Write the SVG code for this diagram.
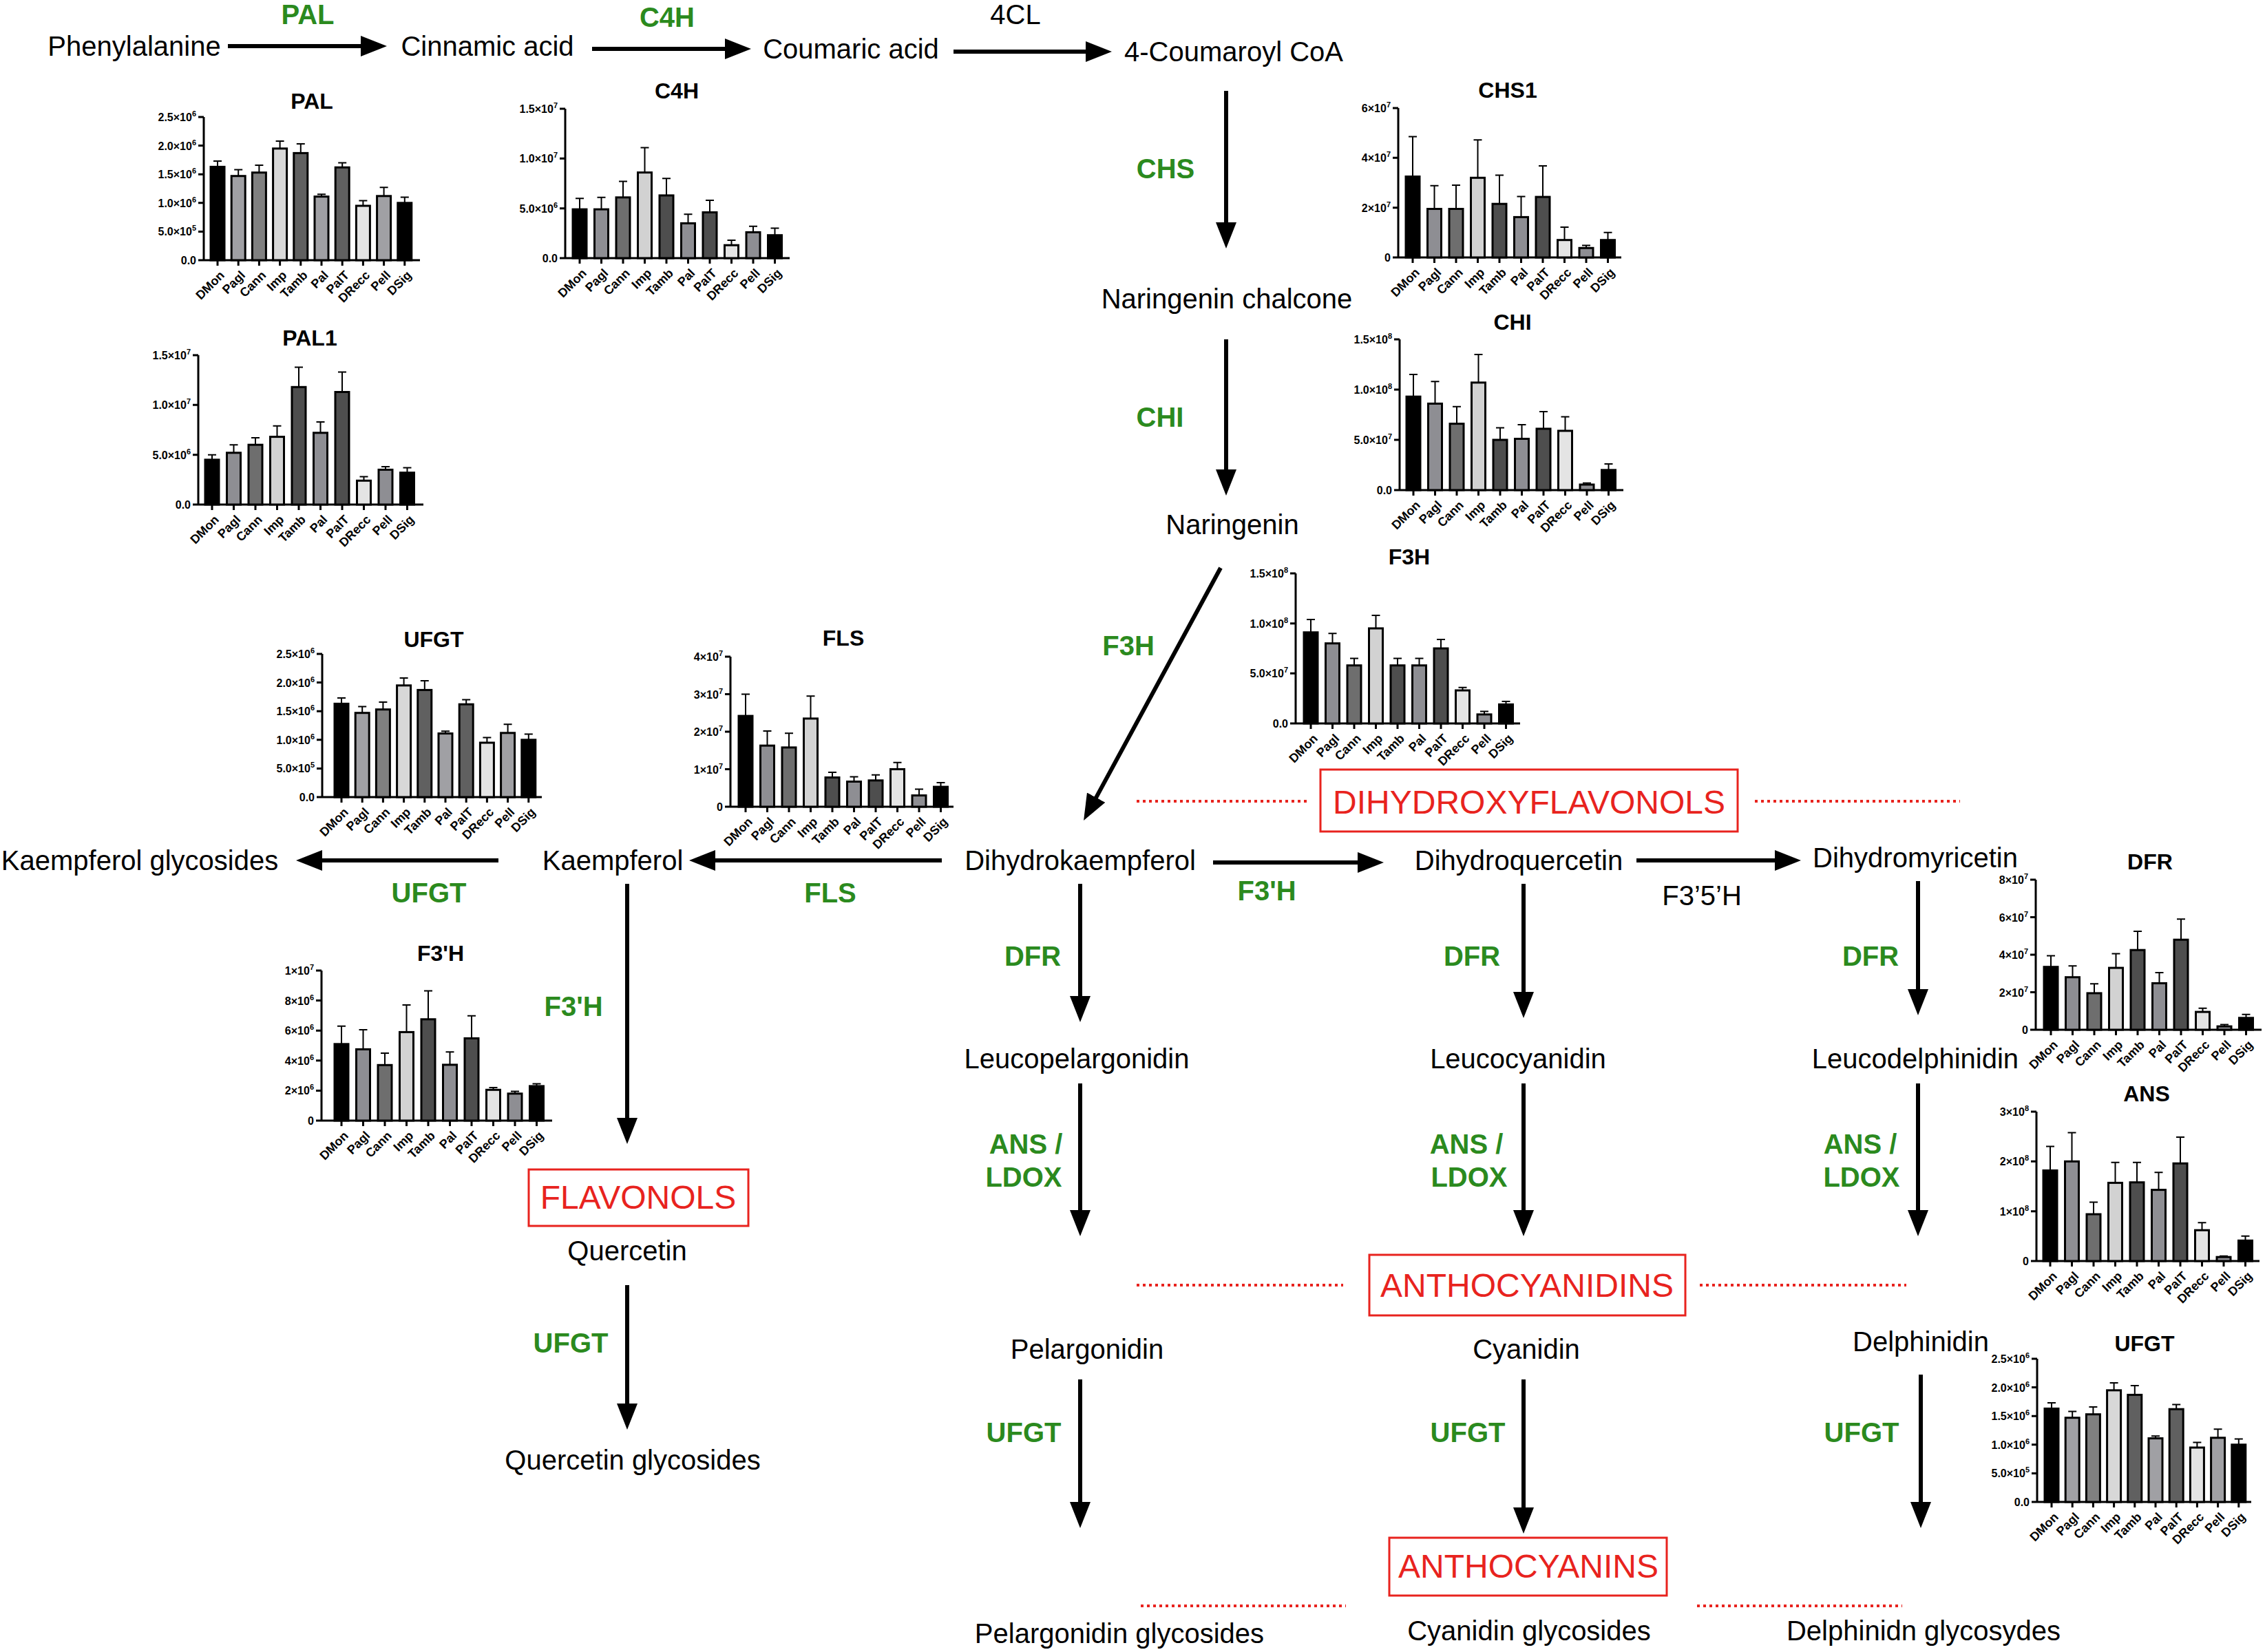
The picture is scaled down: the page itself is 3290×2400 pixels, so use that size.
<svg xmlns="http://www.w3.org/2000/svg" xmlns:xlink="http://www.w3.org/1999/xlink" width="3290" height="2400" viewBox="0 0 3290 2400">
<style>
.t{font-family:"Liberation Sans",Arial,sans-serif;font-size:40px;text-anchor:middle;fill:#000}
.e{font-family:"Liberation Sans",Arial,sans-serif;font-size:40px;font-weight:bold;text-anchor:middle;fill:#2b8a1e}
.r{font-family:"Liberation Sans",Arial,sans-serif;font-size:48px;text-anchor:middle;fill:#e8231e}
.ct{font-family:"Liberation Sans",Arial,sans-serif;font-size:32px;font-weight:bold;text-anchor:middle;fill:#000}
.yl{font-family:"Liberation Sans",Arial,sans-serif;font-size:16px;font-weight:bold;text-anchor:end;fill:#000}
.xl{font-family:"Liberation Sans",Arial,sans-serif;font-size:18px;font-weight:bold;text-anchor:end;fill:#000}
.sup{font-size:11px}
.ax{stroke:#000;stroke-width:3;fill:none}
.eb{stroke:#000;stroke-width:2;fill:none}
rect.k,rect.g1,rect.g2,rect.g3,rect.g4,rect.g5{stroke:#000;stroke-width:3}
.k{fill:#000}.g1{fill:#8e8e93}.g2{fill:#6e6e6e}.g3{fill:#d2d2d2}.g4{fill:#4e4e4e}.g5{fill:#e4e4e4}
.ar{stroke:#000;stroke-width:6;fill:none;marker-end:url(#ah)}
.dl{stroke:#e8231e;stroke-width:4;stroke-dasharray:4 5;fill:none}
.rb{fill:#fff;stroke:#e8231e;stroke-width:3}
</style>
<defs>
<marker id="ah" markerUnits="userSpaceOnUse" viewBox="0 0 40 32" markerWidth="40" markerHeight="32" refX="10" refY="16" orient="auto"><path d="M0,1 L38,16 L0,31 z" fill="#000"/></marker>
<g id="xlA">
<path class="ax" d="M0,0v8M31.5,0v8M63,0v8M94.5,0v8M126,0v8M157.5,0v8M189,0v8M220.5,0v8M252,0v8M283.5,0v8"/>
<text class="xl" transform="translate(11,23) rotate(-45)">DMon</text>
<text class="xl" transform="translate(42.5,23) rotate(-45)">Pagl</text>
<text class="xl" transform="translate(74,23) rotate(-45)">Cann</text>
<text class="xl" transform="translate(105.5,23) rotate(-45)">Imp</text>
<text class="xl" transform="translate(137,23) rotate(-45)">Tamb</text>
<text class="xl" transform="translate(168.5,23) rotate(-45)">Pal</text>
<text class="xl" transform="translate(200,23) rotate(-45)">PalT</text>
<text class="xl" transform="translate(231.5,23) rotate(-45)">DRecc</text>
<text class="xl" transform="translate(263,23) rotate(-45)">Pell</text>
<text class="xl" transform="translate(294.5,23) rotate(-45)">DSig</text>
</g>
<g id="xlB">
<path class="ax" d="M0,0v8M30.2,0v8M60.4,0v8M90.6,0v8M120.8,0v8M151,0v8M181.2,0v8M211.4,0v8M241.6,0v8M271.8,0v8"/>
<text class="xl" transform="translate(11,23) rotate(-45)">DMon</text>
<text class="xl" transform="translate(41.2,23) rotate(-45)">Pagl</text>
<text class="xl" transform="translate(71.4,23) rotate(-45)">Cann</text>
<text class="xl" transform="translate(101.6,23) rotate(-45)">Imp</text>
<text class="xl" transform="translate(131.8,23) rotate(-45)">Tamb</text>
<text class="xl" transform="translate(162,23) rotate(-45)">Pal</text>
<text class="xl" transform="translate(192.2,23) rotate(-45)">PalT</text>
<text class="xl" transform="translate(222.4,23) rotate(-45)">DRecc</text>
<text class="xl" transform="translate(252.6,23) rotate(-45)">Pell</text>
<text class="xl" transform="translate(282.8,23) rotate(-45)">DSig</text>
</g>
<g id="yB">
<path class="ax" d="M0,-208V0M-8,-208H0M-8,-166.4H0M-8,-124.8H0M-8,-83.2H0M-8,-41.6H0"/>
<text class="yl" x="-11" y="-202">2.5×10<tspan class="sup" dy="-7">6</tspan></text>
<text class="yl" x="-11" y="-160.4">2.0×10<tspan class="sup" dy="-7">6</tspan></text>
<text class="yl" x="-11" y="-118.8">1.5×10<tspan class="sup" dy="-7">6</tspan></text>
<text class="yl" x="-11" y="-77.2">1.0×10<tspan class="sup" dy="-7">6</tspan></text>
<text class="yl" x="-11" y="-35.6">5.0×10<tspan class="sup" dy="-7">5</tspan></text>
<text class="yl" x="-11" y="6">0.0</text>
</g>
<g id="barsB">
<rect class="k" x="-10" y="-135.6" width="20" height="135.6"/>
<rect class="g1" x="20.2" y="-122.3" width="20" height="122.3" style="fill:#a0a0a4"/>
<rect class="g2" x="50.4" y="-127.3" width="20" height="127.3" style="fill:#808080"/>
<rect class="g3" x="80.6" y="-162.2" width="20" height="162.2" style="fill:#d8d8d8"/>
<rect class="g4" x="110.8" y="-155.6" width="20" height="155.6" style="fill:#606060"/>
<rect class="g1" x="141" y="-92.4" width="20" height="92.4" style="fill:#a0a0a4"/>
<rect class="g4" x="171.2" y="-134.8" width="20" height="134.8" style="fill:#606060"/>
<rect class="g5" x="201.4" y="-79" width="20" height="79"/>
<rect class="g1" x="231.6" y="-93.2" width="20" height="93.2" style="fill:#a0a0a4"/>
<rect class="k" x="261.8" y="-83.2" width="20" height="83.2"/>
<path class="eb" d="M0,-135.6V-143.9M-6,-143.9H6M30.2,-122.3V-131.5M24.2,-131.5H36.2M60.4,-127.3V-138.1M54.4,-138.1H66.4M90.6,-162.2V-173.1M84.6,-173.1H96.6M120.8,-155.6V-168.9M114.8,-168.9H126.8M151,-92.4V-95.7M145,-95.7H157M181.2,-134.8V-141.4M175.2,-141.4H187.2M211.4,-79V-86.5M205.4,-86.5H217.4M241.6,-93.2V-105.7M235.6,-105.7H247.6M271.8,-83.2V-91.5M265.8,-91.5H277.8"/>
<use xlink:href="#xlB" href="#xlB"/>
</g>
</defs>

<rect x="0" y="0" width="3290" height="2400" fill="#fff"/>

<g id="connectors">
<path class="ar" d="M331,67H534"/>
<path class="ar" d="M860,71H1063"/>
<path class="ar" d="M1385,75H1587"/>
<path class="ar" d="M1781,132V333"/>
<path class="ar" d="M1781,493V692"/>
<path class="ar" d="M1773,825L1587.4,1167.4"/>
<path class="ar" d="M1368,1250H1029"/>
<path class="ar" d="M724,1250H458"/>
<path class="ar" d="M911,1284V1634"/>
<path class="ar" d="M911,1867V2049"/>
<path class="ar" d="M1762,1253H1982"/>
<path class="ar" d="M2377,1250H2588"/>
<path class="ar" d="M1569,1284V1457"/>
<path class="ar" d="M1569,1574V1768"/>
<path class="ar" d="M1569,2004V2192"/>
<path class="ar" d="M2213,1284V1451"/>
<path class="ar" d="M2213,1574V1768"/>
<path class="ar" d="M2213,2004V2200"/>
<path class="ar" d="M2786,1280V1447"/>
<path class="ar" d="M2786,1574V1768"/>
<path class="ar" d="M2790,1997V2192"/>
<path class="dl" d="M1651,1164H1899M2549,1164H2847"/>
<path class="dl" d="M1651,1867H1951M2469,1867H2769"/>
<path class="dl" d="M1657,2333H1955M2465,2333H2763"/>
</g>

<g id="enzyme-labels">
<text class="e" x="447" y="35">PAL</text>
<text class="e" x="969" y="39">C4H</text>
<text class="t" x="1475" y="35">4CL</text>
<text class="e" x="1693" y="259">CHS</text>
<text class="e" x="1685" y="620">CHI</text>
<text class="e" x="1639" y="952">F3H</text>
<text class="e" x="1206" y="1311">FLS</text>
<text class="e" x="623" y="1311">UFGT</text>
<text class="e" x="833" y="1476">F3'H</text>
<text class="e" x="829" y="1965">UFGT</text>
<text class="e" x="1840" y="1308">F3'H</text>
<text class="t" x="2472" y="1315">F3’5’H</text>
<text class="e" x="1500" y="1403">DFR</text>
<text class="e" x="2138" y="1403">DFR</text>
<text class="e" x="2717" y="1403">DFR</text>
<text class="e" x="1490" y="1676">ANS /</text>
<text class="e" x="1487" y="1724">LDOX</text>
<text class="e" x="2130" y="1676">ANS /</text>
<text class="e" x="2134" y="1724">LDOX</text>
<text class="e" x="2702" y="1676">ANS /</text>
<text class="e" x="2704" y="1724">LDOX</text>
<text class="e" x="1487" y="2095">UFGT</text>
<text class="e" x="2132" y="2095">UFGT</text>
<text class="e" x="2704" y="2095">UFGT</text>
</g>

<g id="n-phenylalanine"><text class="t" x="195" y="81">Phenylalanine</text></g>
<g id="n-cinnamic"><text class="t" x="708" y="81">Cinnamic acid</text></g>
<g id="n-coumaric"><text class="t" x="1236" y="85">Coumaric acid</text></g>
<g id="n-coumaroylcoa"><text class="t" x="1792" y="89">4-Coumaroyl CoA</text></g>
<g id="n-chalcone"><text class="t" x="1782" y="448">Naringenin chalcone</text></g>
<g id="n-naringenin"><text class="t" x="1790" y="776">Naringenin</text></g>
<g id="n-dihydrokaempferol"><text class="t" x="1569" y="1264">Dihydrokaempferol</text></g>
<g id="n-kaempferol"><text class="t" x="890" y="1264">Kaempferol</text></g>
<g id="n-kaempferol-gly"><text class="t" x="203" y="1264">Kaempferol glycosides</text></g>
<g id="n-quercetin"><text class="t" x="911" y="1831">Quercetin</text></g>
<g id="n-quercetin-gly"><text class="t" x="919" y="2135">Quercetin glycosides</text></g>
<g id="n-dihydroquercetin"><text class="t" x="2206" y="1264">Dihydroquercetin</text></g>
<g id="n-dihydromyricetin"><text class="t" x="2782" y="1260">Dihydromyricetin</text></g>
<g id="n-leucopelargonidin"><text class="t" x="1564" y="1552">Leucopelargonidin</text></g>
<g id="n-leucocyanidin"><text class="t" x="2205" y="1552">Leucocyanidin</text></g>
<g id="n-leucodelphinidin"><text class="t" x="2782" y="1552">Leucodelphinidin</text></g>
<g id="n-pelargonidin"><text class="t" x="1579" y="1974">Pelargonidin</text></g>
<g id="n-cyanidin"><text class="t" x="2217" y="1974">Cyanidin</text></g>
<g id="n-delphinidin"><text class="t" x="2790" y="1963">Delphinidin</text></g>
<g id="n-pelargonidin-gly"><text class="t" x="1626" y="2387">Pelargonidin glycosides</text></g>
<g id="n-cyanidin-gly"><text class="t" x="2221" y="2383">Cyanidin glycosides</text></g>
<g id="n-delphinidin-gly"><text class="t" x="2794" y="2383">Delphinidn glycosydes</text></g>

<g id="box-dihydroxyflavonols"><rect class="rb" x="1918" y="1118" width="606" height="90"/><text class="r" x="2221" y="1182">DIHYDROXYFLAVONOLS</text></g>
<g id="box-flavonols"><rect class="rb" x="768" y="1699" width="319" height="82"/><text class="r" x="927" y="1756">FLAVONOLS</text></g>
<g id="box-anthocyanidins"><rect class="rb" x="1989" y="1823" width="459" height="88"/><text class="r" x="2218" y="1884">ANTHOCYANIDINS</text></g>
<g id="box-anthocyanins"><rect class="rb" x="2018" y="2234" width="403" height="84"/><text class="r" x="2220" y="2292">ANTHOCYANINS</text></g>

<!-- PAL chart -->
<g id="chart-pal" transform="translate(296,378)">
<use xlink:href="#yB" href="#yB"/>
<path class="ax" d="M-8,0H314"/>
<use xlink:href="#barsB" href="#barsB" x="20"/>
<text class="ct" x="157" y="-220">PAL</text>
</g>

<!-- UFGT left -->
<g id="chart-ufgt-left" transform="translate(468,1158)">
<use xlink:href="#yB" href="#yB"/>
<path class="ax" d="M-8,0H319"/>
<use xlink:href="#barsB" href="#barsB" x="28"/>
<text class="ct" x="162" y="-218">UFGT</text>
</g>

<!-- UFGT right -->
<g id="chart-ufgt-right" transform="translate(2959,2182)">
<use xlink:href="#yB" href="#yB"/>
<path class="ax" d="M-8,0H311"/>
<use xlink:href="#barsB" href="#barsB" x="21"/>
<text class="ct" x="156" y="-219">UFGT</text>
</g>

<!-- C4H -->
<g id="chart-c4h" transform="translate(821,375)">
<path class="ax" d="M0,-217V0M-8,0H326M-8,-217H0M-8,-144.7H0M-8,-72.3H0"/>
<text class="yl" x="-11" y="-211">1.5×10<tspan class="sup" dy="-7">7</tspan></text>
<text class="yl" x="-11" y="-138.7">1.0×10<tspan class="sup" dy="-7">7</tspan></text>
<text class="yl" x="-11" y="-66.3">5.0×10<tspan class="sup" dy="-7">6</tspan></text>
<text class="yl" x="-11" y="6">0.0</text>
<text class="ct" x="162" y="-232">C4H</text>
<g transform="translate(21,0)">
<rect class="k" x="-10" y="-70.9" width="20" height="70.9"/>
<rect class="g1" x="21.5" y="-70.9" width="20" height="70.9"/>
<rect class="g2" x="53" y="-88.2" width="20" height="88.2"/>
<rect class="g3" x="84.5" y="-124.4" width="20" height="124.4"/>
<rect class="g4" x="116" y="-91.1" width="20" height="91.1"/>
<rect class="g1" x="147.5" y="-50.6" width="20" height="50.6"/>
<rect class="g4" x="179" y="-66.5" width="20" height="66.5"/>
<rect class="g5" x="210.5" y="-18.8" width="20" height="18.8"/>
<rect class="g1" x="242" y="-37.6" width="20" height="37.6"/>
<rect class="k" x="273.5" y="-33.3" width="20" height="33.3"/>
<path class="eb" d="M0,-70.9V-86.8M-6,-86.8H6M31.5,-70.9V-88.2M25.5,-88.2H37.5M63,-88.2V-111.4M57,-111.4H69M94.5,-124.4V-160.6M88.5,-160.6H100.5M126,-91.1V-115.7M120,-115.7H132M157.5,-50.6V-63.7M151.5,-63.7H163.5M189,-66.5V-83.9M183,-83.9H195M220.5,-18.8V-26M214.5,-26H226.5M252,-37.6V-46.3M246,-46.3H258M283.5,-33.3V-43.4M277.5,-43.4H289.5"/>
<use xlink:href="#xlA" href="#xlA"/>
</g>
</g>

<!-- CHS1 -->
<g id="chart-chs1" transform="translate(2031,374)">
<path class="ax" d="M0,-217V0M-8,0H324M-8,-217H0M-8,-144.7H0M-8,-72.3H0"/>
<text class="yl" x="-11" y="-211">6×10<tspan class="sup" dy="-7">7</tspan></text>
<text class="yl" x="-11" y="-138.7">4×10<tspan class="sup" dy="-7">7</tspan></text>
<text class="yl" x="-11" y="-66.3">2×10<tspan class="sup" dy="-7">7</tspan></text>
<text class="yl" x="-11" y="6">0</text>
<text class="ct" x="159" y="-232">CHS1</text>
<g transform="translate(21,0)">
<rect class="k" x="-10" y="-117.5" width="20" height="117.5"/>
<rect class="g1" x="21.5" y="-70.5" width="20" height="70.5"/>
<rect class="g2" x="53" y="-70.5" width="20" height="70.5"/>
<rect class="g3" x="84.5" y="-115.7" width="20" height="115.7"/>
<rect class="g4" x="116" y="-77.8" width="20" height="77.8"/>
<rect class="g1" x="147.5" y="-58.6" width="20" height="58.6"/>
<rect class="g4" x="179" y="-87.9" width="20" height="87.9"/>
<rect class="g5" x="210.5" y="-25.3" width="20" height="25.3"/>
<rect class="g1" x="242" y="-13.7" width="20" height="13.7"/>
<rect class="k" x="273.5" y="-25.3" width="20" height="25.3"/>
<path class="eb" d="M0,-117.5V-175.4M-6,-175.4H6M31.5,-70.5V-104.2M25.5,-104.2H37.5M63,-70.5V-104.9M57,-104.9H69M94.5,-115.7V-170.7M88.5,-170.7H100.5M126,-77.8V-119.4M120,-119.4H132M157.5,-58.6V-88.6M151.5,-88.6H163.5M189,-87.9V-133.1M183,-133.1H195M220.5,-25.3V-44.1M214.5,-44.1H226.5M252,-13.7V-17.4M246,-17.4H258M283.5,-25.3V-36.2M277.5,-36.2H289.5"/>
<use xlink:href="#xlA" href="#xlA"/>
</g>
</g>

<!-- PAL1 -->
<g id="chart-pal1" transform="translate(288,733)">
<path class="ax" d="M0,-217V0M-8,0H327M-8,-217H0M-8,-144.7H0M-8,-72.3H0"/>
<text class="yl" x="-11" y="-211">1.5×10<tspan class="sup" dy="-7">7</tspan></text>
<text class="yl" x="-11" y="-138.7">1.0×10<tspan class="sup" dy="-7">7</tspan></text>
<text class="yl" x="-11" y="-66.3">5.0×10<tspan class="sup" dy="-7">6</tspan></text>
<text class="yl" x="-11" y="6">0.0</text>
<text class="ct" x="162" y="-231">PAL1</text>
<g transform="translate(20,0)">
<rect class="k" x="-10" y="-65.1" width="20" height="65.1"/>
<rect class="g1" x="21.5" y="-75.2" width="20" height="75.2"/>
<rect class="g2" x="53" y="-86.8" width="20" height="86.8"/>
<rect class="g3" x="84.5" y="-98.4" width="20" height="98.4"/>
<rect class="g4" x="116" y="-170.7" width="20" height="170.7"/>
<rect class="g1" x="147.5" y="-104.2" width="20" height="104.2"/>
<rect class="g4" x="179" y="-163.5" width="20" height="163.5"/>
<rect class="g5" x="210.5" y="-34.7" width="20" height="34.7"/>
<rect class="g1" x="242" y="-50.6" width="20" height="50.6"/>
<rect class="k" x="273.5" y="-46.3" width="20" height="46.3"/>
<path class="eb" d="M0,-65.1V-72.3M-6,-72.3H6M31.5,-75.2V-86.8M25.5,-86.8H37.5M63,-86.8V-96.9M57,-96.9H69M94.5,-98.4V-114.3M88.5,-114.3H100.5M126,-170.7V-199.6M120,-199.6H132M157.5,-104.2V-120.1M151.5,-120.1H163.5M189,-163.5V-192.4M183,-192.4H195M220.5,-34.7V-40.5M214.5,-40.5H226.5M252,-50.6V-55M246,-55H258M283.5,-46.3V-53.5M277.5,-53.5H289.5"/>
<use xlink:href="#xlA" href="#xlA"/>
</g>
</g>

<!-- CHI -->
<g id="chart-chi" transform="translate(2033,712)">
<path class="ax" d="M0,-219V0M-8,0H325M-8,-219H0M-8,-146H0M-8,-73H0"/>
<text class="yl" x="-11" y="-213">1.5×10<tspan class="sup" dy="-7">8</tspan></text>
<text class="yl" x="-11" y="-140">1.0×10<tspan class="sup" dy="-7">8</tspan></text>
<text class="yl" x="-11" y="-67">5.0×10<tspan class="sup" dy="-7">7</tspan></text>
<text class="yl" x="-11" y="6">0.0</text>
<text class="ct" x="164" y="-233">CHI</text>
<g transform="translate(20,0)">
<rect class="k" x="-10" y="-135.8" width="20" height="135.8"/>
<rect class="g1" x="21.5" y="-125.6" width="20" height="125.6"/>
<rect class="g2" x="53" y="-96.4" width="20" height="96.4"/>
<rect class="g3" x="84.5" y="-156.2" width="20" height="156.2"/>
<rect class="g4" x="116" y="-73" width="20" height="73"/>
<rect class="g1" x="147.5" y="-74.5" width="20" height="74.5"/>
<rect class="g4" x="179" y="-89.1" width="20" height="89.1"/>
<rect class="g5" x="210.5" y="-86.1" width="20" height="86.1"/>
<rect class="g1" x="242" y="-8" width="20" height="8"/>
<rect class="k" x="273.5" y="-29.2" width="20" height="29.2"/>
<path class="eb" d="M0,-135.8V-167.9M-6,-167.9H6M31.5,-125.6V-157.7M25.5,-157.7H37.5M63,-96.4V-121.2M57,-121.2H69M94.5,-156.2V-197.1M88.5,-197.1H100.5M126,-73V-90.5M120,-90.5H132M157.5,-74.5V-94.9M151.5,-94.9H163.5M189,-89.1V-113.9M183,-113.9H195M220.5,-86.1V-106.6M214.5,-106.6H226.5M252,-8V-10.2M246,-10.2H258M283.5,-29.2V-38M277.5,-38H289.5"/>
<use xlink:href="#xlA" href="#xlA"/>
</g>
</g>

<!-- F3H -->
<g id="chart-f3h" transform="translate(1882,1051)">
<path class="ax" d="M0,-218V0M-8,0H326M-8,-218H0M-8,-145.3H0M-8,-72.7H0"/>
<text class="yl" x="-11" y="-212">1.5×10<tspan class="sup" dy="-7">8</tspan></text>
<text class="yl" x="-11" y="-139.3">1.0×10<tspan class="sup" dy="-7">8</tspan></text>
<text class="yl" x="-11" y="-66.7">5.0×10<tspan class="sup" dy="-7">7</tspan></text>
<text class="yl" x="-11" y="6">0.0</text>
<text class="ct" x="165" y="-231">F3H</text>
<g transform="translate(22,0)">
<rect class="k" x="-10" y="-132.3" width="20" height="132.3"/>
<rect class="g1" x="21.5" y="-116.3" width="20" height="116.3"/>
<rect class="g2" x="53" y="-84.3" width="20" height="84.3"/>
<rect class="g3" x="84.5" y="-138.1" width="20" height="138.1"/>
<rect class="g4" x="116" y="-84.3" width="20" height="84.3"/>
<rect class="g1" x="147.5" y="-84.3" width="20" height="84.3"/>
<rect class="g4" x="179" y="-109" width="20" height="109"/>
<rect class="g5" x="210.5" y="-48" width="20" height="48"/>
<rect class="g1" x="242" y="-13.1" width="20" height="13.1"/>
<rect class="k" x="273.5" y="-27.6" width="20" height="27.6"/>
<path class="eb" d="M0,-132.3V-151.1M-6,-151.1H6M31.5,-116.3V-130.8M25.5,-130.8H37.5M63,-84.3V-94.5M57,-94.5H69M94.5,-138.1V-156.9M88.5,-156.9H100.5M126,-84.3V-94.5M120,-94.5H132M157.5,-84.3V-94.5M151.5,-94.5H163.5M189,-109V-122.1M183,-122.1H195M220.5,-48V-52.3M214.5,-52.3H226.5M252,-13.1V-17.4M246,-17.4H258M283.5,-27.6V-32M277.5,-32H289.5"/>
<use xlink:href="#xlA" href="#xlA"/>
</g>
</g>

<!-- FLS -->
<g id="chart-fls" transform="translate(1061,1172)">
<path class="ax" d="M0,-218V0M-8,0H324M-8,-218H0M-8,-163.5H0M-8,-109H0M-8,-54.5H0"/>
<text class="yl" x="-11" y="-212">4×10<tspan class="sup" dy="-7">7</tspan></text>
<text class="yl" x="-11" y="-157.5">3×10<tspan class="sup" dy="-7">7</tspan></text>
<text class="yl" x="-11" y="-103">2×10<tspan class="sup" dy="-7">7</tspan></text>
<text class="yl" x="-11" y="-48.5">1×10<tspan class="sup" dy="-7">7</tspan></text>
<text class="yl" x="-11" y="6">0</text>
<text class="ct" x="164" y="-234">FLS</text>
<g transform="translate(22,0)">
<rect class="k" x="-10" y="-131.9" width="20" height="131.9"/>
<rect class="g1" x="21.5" y="-88.8" width="20" height="88.8"/>
<rect class="g2" x="53" y="-86.1" width="20" height="86.1"/>
<rect class="g3" x="84.5" y="-128.1" width="20" height="128.1"/>
<rect class="g4" x="116" y="-42.5" width="20" height="42.5"/>
<rect class="g1" x="147.5" y="-36.5" width="20" height="36.5"/>
<rect class="g4" x="179" y="-38.2" width="20" height="38.2"/>
<rect class="g5" x="210.5" y="-54.5" width="20" height="54.5"/>
<rect class="g1" x="242" y="-16.4" width="20" height="16.4"/>
<rect class="k" x="273.5" y="-28.9" width="20" height="28.9"/>
<path class="eb" d="M0,-131.9V-163.5M-6,-163.5H6M31.5,-88.8V-110.1M25.5,-110.1H37.5M63,-86.1V-106.8M57,-106.8H69M94.5,-128.1V-160.8M88.5,-160.8H100.5M126,-42.5V-50.1M120,-50.1H132M157.5,-36.5V-43.6M151.5,-43.6H163.5M189,-38.2V-46.3M183,-46.3H195M220.5,-54.5V-64.3M214.5,-64.3H226.5M252,-16.4V-25.6M246,-25.6H258M283.5,-28.9V-34.9M277.5,-34.9H289.5"/>
<use xlink:href="#xlA" href="#xlA"/>
</g>
</g>

<!-- F3'H -->
<g id="chart-f3prime-h" transform="translate(467,1628)">
<path class="ax" d="M0,-218V0M-8,0H335M-8,-218H0M-8,-174.4H0M-8,-130.8H0M-8,-87.2H0M-8,-43.6H0"/>
<text class="yl" x="-11" y="-212">1×10<tspan class="sup" dy="-7">7</tspan></text>
<text class="yl" x="-11" y="-168.4">8×10<tspan class="sup" dy="-7">6</tspan></text>
<text class="yl" x="-11" y="-124.8">6×10<tspan class="sup" dy="-7">6</tspan></text>
<text class="yl" x="-11" y="-81.2">4×10<tspan class="sup" dy="-7">6</tspan></text>
<text class="yl" x="-11" y="-37.6">2×10<tspan class="sup" dy="-7">6</tspan></text>
<text class="yl" x="-11" y="6">0</text>
<text class="ct" x="173" y="-232">F3'H</text>
<g transform="translate(29,0)">
<rect class="k" x="-10" y="-111.2" width="20" height="111.2"/>
<rect class="g1" x="21.5" y="-103.6" width="20" height="103.6"/>
<rect class="g2" x="53" y="-80.7" width="20" height="80.7"/>
<rect class="g3" x="84.5" y="-128.6" width="20" height="128.6"/>
<rect class="g4" x="116" y="-147.2" width="20" height="147.2"/>
<rect class="g1" x="147.5" y="-81.1" width="20" height="81.1"/>
<rect class="g4" x="179" y="-119.5" width="20" height="119.5"/>
<rect class="g5" x="210.5" y="-44.7" width="20" height="44.7"/>
<rect class="g1" x="242" y="-39.2" width="20" height="39.2"/>
<rect class="k" x="273.5" y="-50.1" width="20" height="50.1"/>
<path class="eb" d="M0,-111.2V-137.3M-6,-137.3H6M31.5,-103.6V-131.9M25.5,-131.9H37.5M63,-80.7V-98.1M57,-98.1H69M94.5,-128.6V-167.9M88.5,-167.9H100.5M126,-147.2V-188.6M120,-188.6H132M157.5,-81.1V-99.8M151.5,-99.8H163.5M189,-119.5V-152.2M183,-152.2H195M220.5,-44.7V-48M214.5,-48H226.5M252,-39.2V-42.5M246,-42.5H258M283.5,-50.1V-53.4M277.5,-53.4H289.5"/>
<use xlink:href="#xlA" href="#xlA"/>
</g>
</g>

<!-- DFR -->
<g id="chart-dfr" transform="translate(2957,1496)">
<path class="ax" d="M0,-218V0M-8,0H328M-8,-218H0M-8,-163.5H0M-8,-109H0M-8,-54.5H0"/>
<text class="yl" x="-11" y="-212">8×10<tspan class="sup" dy="-7">7</tspan></text>
<text class="yl" x="-11" y="-157.5">6×10<tspan class="sup" dy="-7">7</tspan></text>
<text class="yl" x="-11" y="-103">4×10<tspan class="sup" dy="-7">7</tspan></text>
<text class="yl" x="-11" y="-48.5">2×10<tspan class="sup" dy="-7">7</tspan></text>
<text class="yl" x="-11" y="6">0</text>
<text class="ct" x="166" y="-233">DFR</text>
<g transform="translate(22,0)">
<rect class="k" x="-10" y="-91.3" width="20" height="91.3"/>
<rect class="g1" x="21.5" y="-76.3" width="20" height="76.3"/>
<rect class="g2" x="53" y="-53.1" width="20" height="53.1"/>
<rect class="g3" x="84.5" y="-89.9" width="20" height="89.9"/>
<rect class="g4" x="116" y="-115.8" width="20" height="115.8"/>
<rect class="g1" x="147.5" y="-67.6" width="20" height="67.6"/>
<rect class="g4" x="179" y="-130.8" width="20" height="130.8"/>
<rect class="g5" x="210.5" y="-25.9" width="20" height="25.9"/>
<rect class="g1" x="242" y="-4.9" width="20" height="4.9"/>
<rect class="k" x="273.5" y="-17.2" width="20" height="17.2"/>
<path class="eb" d="M0,-91.3V-107.6M-6,-107.6H6M31.5,-76.3V-92.7M25.5,-92.7H37.5M63,-53.1V-66.8M57,-66.8H69M94.5,-89.9V-110.4M88.5,-110.4H100.5M126,-115.8V-143.1M120,-143.1H132M157.5,-67.6V-83.1M151.5,-83.1H163.5M189,-130.8V-160.8M183,-160.8H195M220.5,-25.9V-31.3M214.5,-31.3H226.5M252,-4.9V-7.6M246,-7.6H258M283.5,-17.2V-22.3M277.5,-22.3H289.5"/>
<use xlink:href="#xlA" href="#xlA"/>
</g>
</g>

<!-- ANS -->
<g id="chart-ans" transform="translate(2958,1832)">
<path class="ax" d="M0,-217V0M-8,0H324M-8,-217H0M-8,-144.7H0M-8,-72.3H0"/>
<text class="yl" x="-11" y="-211">3×10<tspan class="sup" dy="-7">8</tspan></text>
<text class="yl" x="-11" y="-138.7">2×10<tspan class="sup" dy="-7">8</tspan></text>
<text class="yl" x="-11" y="-66.3">1×10<tspan class="sup" dy="-7">8</tspan></text>
<text class="yl" x="-11" y="6">0</text>
<text class="ct" x="160" y="-232">ANS</text>
<g transform="translate(20,0)">
<rect class="k" x="-10" y="-131.6" width="20" height="131.6"/>
<rect class="g1" x="21.5" y="-144.7" width="20" height="144.7"/>
<rect class="g2" x="53" y="-68" width="20" height="68"/>
<rect class="g3" x="84.5" y="-113.6" width="20" height="113.6"/>
<rect class="g4" x="116" y="-114.3" width="20" height="114.3"/>
<rect class="g1" x="147.5" y="-103.4" width="20" height="103.4"/>
<rect class="g4" x="179" y="-141.8" width="20" height="141.8"/>
<rect class="g5" x="210.5" y="-44.8" width="20" height="44.8"/>
<rect class="g1" x="242" y="-5.8" width="20" height="5.8"/>
<rect class="k" x="273.5" y="-29.7" width="20" height="29.7"/>
<path class="eb" d="M0,-131.6V-166.4M-6,-166.4H6M31.5,-144.7V-186.6M25.5,-186.6H37.5M63,-68V-85.4M57,-85.4H69M94.5,-113.6V-143.2M88.5,-143.2H100.5M126,-114.3V-143.2M120,-143.2H132M157.5,-103.4V-128.7M151.5,-128.7H163.5M189,-141.8V-180.1M183,-180.1H195M220.5,-44.8V-55.7M214.5,-55.7H226.5M252,-5.8V-7.2M246,-7.2H258M283.5,-29.7V-36.2M277.5,-36.2H289.5"/>
<use xlink:href="#xlA" href="#xlA"/>
</g>
</g>
</svg>
